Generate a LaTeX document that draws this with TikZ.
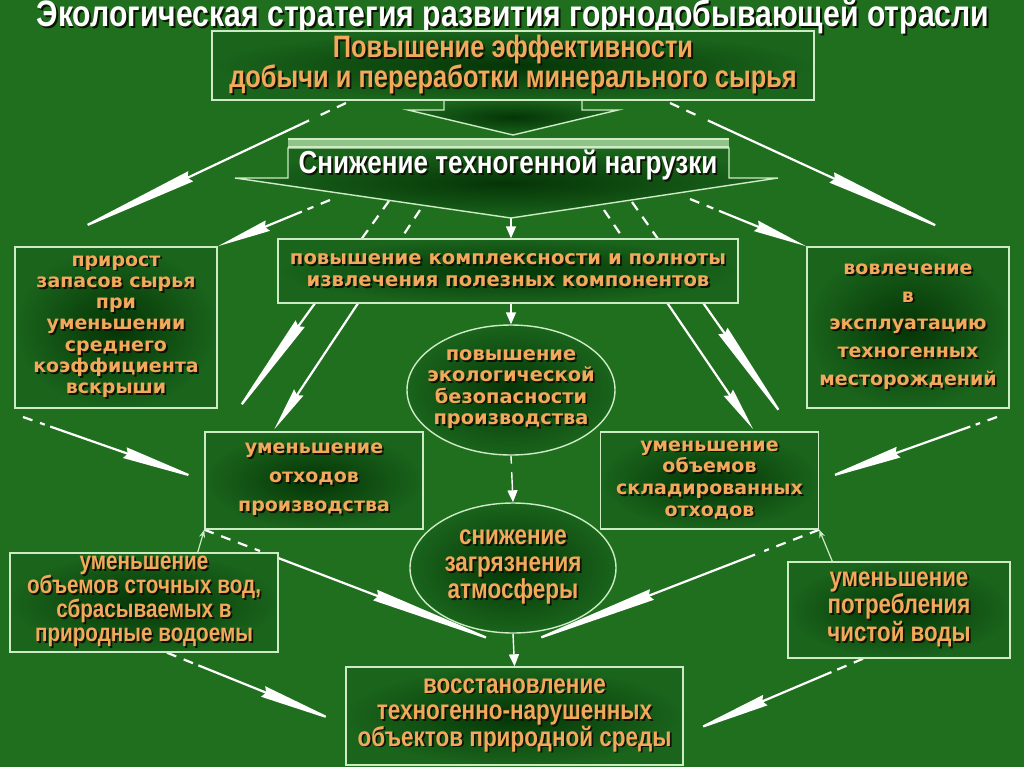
\documentclass[tikz,border=0pt]{standalone}
\usepackage{fontspec}
\usepackage{xcolor}
\usepackage{tikz}
\usetikzlibrary{shapes.geometric,arrows.meta,calc,backgrounds}
\newfontfamily\narrowfont[FakeStretch=0.82]{Liberation Sans}
\newfontfamily\wideface{DejaVu Sans}
\definecolor{field}{HTML}{1F6F1F}
\definecolor{boxin}{HTML}{053506}
\definecolor{boxout}{HTML}{1A641C}
\definecolor{edge}{HTML}{CDEBC4}
\definecolor{ochre}{HTML}{F2A95C}
\definecolor{shade}{HTML}{0E1404}
\definecolor{barfill}{HTML}{8FC486}
\newcommand\linesbox[1]{\vbox{\lineskiplimit=-\maxdimen\let\\\cr\halign{\hfil##\hfil\cr#1\crcr}}}
\newcommand\shtxt[1]{\leavevmode\rlap{\kern.9pt\raisebox{-.9pt}{\textcolor{shade}{\linesbox{#1}}}}\linesbox{#1}}

\begin{document}
\begin{tikzpicture}[x=0.5pt,y=-0.5pt,
   bx/.style={draw=edge,line width=0.7pt,inner color=boxin,outer color=boxout,inner sep=0pt},
   ov/.style={bx,ellipse},
   nar/.style 2 args={text=ochre,font=\narrowfont\bfseries\fontsize{#1}{#2}\selectfont},
   wid/.style 2 args={text=ochre,font=\wideface\bfseries\fontsize{#1}{#2}\selectfont},
   spear/.style={white,line width=1.1pt,-{Stealth[length=#1,width=5.5pt,inset=1.5pt]}},
   lead/.style={white,line width=1.1pt,dash pattern=on 5pt off 4pt},
   joinarrow/.style={white,line width=0.7pt,-{Triangle[length=6pt,width=5pt]}},
   hairline/.style={edge,line width=0.6pt}]
  \useasboundingbox (0,0) rectangle (1024,767);
  \path[bx] (444,99) -- (444,110) -- (408,110) -- (513,135) -- (618,110) -- (582,110) -- (582,99) -- cycle;
  \path[bx] (288,148) -- (729,148) -- (729,178) -- (778,178) -- (511,218) -- (235,178) -- (288,178) -- cycle;
  \fill[barfill] (288,139) rectangle (729,147);
  \draw[edge,line width=0.8pt] (288,139) -- (729,139) (288,147) -- (729,147);
  \coordinate (tip2) at (511,218);

  \node[text=white,font=\narrowfont\bfseries\fontsize{18.4}{20}\selectfont] (title) at (513,17.5)
     {\shtxt{Экологическая стратегия развития горнодобывающей отрасли}};
  \node[bx,minimum width=301pt,minimum height=34.5pt,nar={15.5}{15}] (eff) at (513,65.5)
     {\shtxt{Повышение эффективности\\добычи и переработки минерального сырья}};
  \node[text=white,font=\narrowfont\bfseries\fontsize{15.9}{17}\selectfont] (nagr) at (508,166)
     {\shtxt{Снижение техногенной нагрузки}};
  \node[bx,minimum width=230pt,minimum height=32pt,wid={9.8}{11}] (kompl) at (508,271)
     {\shtxt{повышение комплексности и полноты\\извлечения полезных компонентов}};
  \node[bx,minimum width=101pt,minimum height=80.5pt,wid={9.5}{10.65}] (prir) at (116,327.5)
     {\shtxt{прирост\\запасов сырья\\при\\уменьшении\\среднего\\коэффициента\\вскрыши}};
  \node[bx,minimum width=101pt,minimum height=80.5pt,wid={9.5}{13.9}] (vovl) at (908,327.5)
     {\shtxt{вовлечение\\в\\эксплуатацию\\техногенных\\месторождений}};
  \node[ov,minimum width=104pt,minimum height=65pt] (bez) at (511,390) {};
  \node[wid={9.7}{10.65}] (bez-t) at (bez) {\shtxt{повышение\\экологической\\безопасности\\производства}};
  \node[bx,minimum width=109pt,minimum height=48.5pt,wid={9.5}{14.5}] (otx) at (314,480.5)
     {\shtxt{уменьшение\\отходов\\производства}};
  \node[bx,minimum width=109pt,minimum height=48.5pt,wid={9.5}{10.85}] (skl) at (709.5,480.5)
     {\shtxt{уменьшение\\объемов\\складированных\\отходов}};
  \node[ov,minimum width=103pt,minimum height=65pt] (atm) at (513,568) {};
  \node[nar={13.7}{13.5}] (atm-t) at (atm) {\shtxt{снижение\\загрязнения\\атмосферы}};
  \node[bx,minimum width=134pt,minimum height=49.5pt,nar={12.6}{12}] (stoch) at (144,602.5)
     {\shtxt{уменьшение\\объемов сточных вод,\\сбрасываемых в\\природные водоемы}};
  \node[bx,minimum width=111pt,minimum height=48pt,nar={13.6}{13.8}] (potr) at (899,610)
     {\shtxt{уменьшение\\потребления\\чистой воды}};
  \node[bx,minimum width=168.5pt,minimum height=49pt,nar={13.7}{13.25}] (vosst) at (514.5,716)
     {\shtxt{восстановление\\техногенно-нарушенных\\объектов природной среды}};

  \begin{scope}[on background layer]
    \fill[field] (0,0) rectangle (1024,767);
    % spears from the top box
    \coordinate (s1) at (346,103); \coordinate (t1) at (62,237);
    \coordinate (s2) at (670,103); \coordinate (t2) at (961,237);
    \draw[lead] (s1) -- ($(s1)!.1!(t1)$);
    \draw[spear=71pt] ($(s1)!.13!(t1)$) -- (t1);
    \draw[lead] (s2) -- ($(s2)!.1!(t2)$);
    \draw[spear=71pt] ($(s2)!.13!(t2)$) -- (t2);
    % from the head of the second box
    \coordinate (s3) at (330,200); \coordinate (s4) at (690,199);
    \draw[lead] (s3) -- ($(s3)!.2!(prir.north east)$);
    \draw[spear=27pt] ($(s3)!.25!(prir.north east)$) -- (prir.north east);
    \draw[lead] (s4) -- ($(s4)!.2!(vovl.north west)$);
    \draw[spear=27pt] ($(s4)!.25!(vovl.north west)$) -- (vovl.north west);
    \coordinate (a0) at (389,201); \coordinate (a1) at ($(otx.north west)+(23,-7)$);
    \coordinate (b0) at (420,210); \coordinate (b1) at ($(otx.north west)+(70,-2)$);
    \coordinate (c0) at (604,210); \coordinate (c1) at ($(skl.north east)+(-66,-2)$);
    \coordinate (d0) at (632,202); \coordinate (d1) at ($(skl.north east)+(-27,-2)$);
    \draw[lead] (a0) -- ($(a0)!.4!(a1)$);
    \draw[spear=62pt] ($(a0)!.4!(a1)$) -- (a1);
    \draw[lead] (b0) -- ($(b0)!.4!(b1)$);
    \draw[spear=22pt] ($(b0)!.4!(b1)$) -- (b1);
    \draw[lead] (c0) -- ($(c0)!.4!(c1)$);
    \draw[spear=22pt] ($(c0)!.4!(c1)$) -- (c1);
    \draw[lead] (d0) -- ($(d0)!.4!(d1)$);
    \draw[spear=60pt] ($(d0)!.4!(d1)$) -- (d1);
    % side spears
    \coordinate (s5) at (23,417); \coordinate (s6) at (997,417);
    \draw[lead] (s5) -- ($(s5)!.12!(otx.west)$);
    \draw[spear=42pt] ($(s5)!.15!(otx.west)$) -- (otx.west);
    \draw[lead] (s6) -- ($(s6)!.12!(skl.east)$);
    \draw[spear=42pt] ($(s6)!.15!(skl.east)$) -- (skl.east);
    \coordinate (mid) at ($(atm.south)!.44!(vosst.north)$);
    \draw[lead] (otx.south west) -- ($(otx.south west)!.18!(mid)$);
    \draw[spear=74pt] ($(otx.south west)!.21!(mid)$) -- (mid);
    \draw[lead] (skl.south east) -- ($(skl.south east)!.18!(mid)$);
    \draw[spear=74pt] ($(skl.south east)!.21!(mid)$) -- (mid);
    \coordinate (s7) at ($(stoch.south)+(23,0)$); \coordinate (t7) at ($(vosst.west)+(-4,7)$);
    \coordinate (s8) at ($(potr.south)+(-36,0)$); \coordinate (t8) at ($(vosst.east)+(4,17)$);
    \draw[lead] (s7) -- ($(s7)!.15!(t7)$);
    \draw[spear=42pt] ($(s7)!.18!(t7)$) -- (t7);
    \draw[lead] (s8) -- ($(s8)!.15!(t8)$);
    \draw[spear=42pt] ($(s8)!.18!(t8)$) -- (t8);
    \draw[hairline,-{Stealth[length=4pt,width=3pt]}] ($(stoch.north east)+(-81,0)$) -- (otx.south west);
    \draw[hairline,-{Stealth[length=4pt,width=3pt]}] ($(potr.north west)+(45,0)$) -- (skl.south east);
    % centre column
    \draw[joinarrow] (tip2) -- (tip2 |- kompl.north);
    \draw[joinarrow] (bez.north |- kompl.south) -- (bez.north);
    \draw[white,line width=0.7pt,dash pattern=on 4pt off 3pt] (bez.south) -- ($(bez.south)!.3!(atm.north)$);
    \draw[joinarrow] ($(bez.south)!.35!(atm.north)$) -- (atm.north);
    \draw[joinarrow] (atm.south) -- (vosst.north);
  \end{scope}
\end{tikzpicture}
\end{document}
